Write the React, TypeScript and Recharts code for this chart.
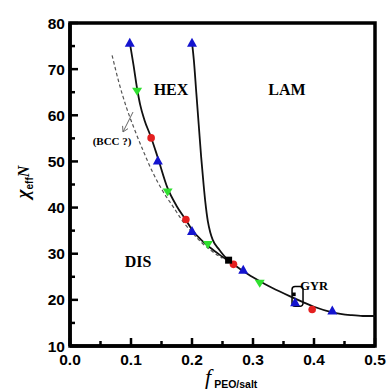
import React from 'react';
import {
  ComposedChart,
  Line,
  Scatter,
  XAxis,
  YAxis,
  ReferenceArea,
  ReferenceDot,
} from 'recharts';

// ---- data ----
const xTicks = [0, 0.05, 0.1, 0.15, 0.2, 0.25, 0.3, 0.35, 0.4, 0.45, 0.5];
const yTicks = [10, 15, 20, 25, 30, 35, 40, 45, 50, 55, 60, 65, 70, 75, 80];

// order-disorder boundary (solid)
const odtCurve = [
  { x: 0.098, y: 75.8 },
  { x: 0.104, y: 71.0 },
  { x: 0.11, y: 65.8 },
  { x: 0.115, y: 62.3 },
  { x: 0.122, y: 59.0 },
  { x: 0.133, y: 55.2 },
  { x: 0.144, y: 50.8 },
  { x: 0.16, y: 44.2 },
  { x: 0.175, y: 40.3 },
  { x: 0.19, y: 37.3 },
  { x: 0.2, y: 35.2 },
  { x: 0.215, y: 33.0 },
  { x: 0.23, y: 31.3 },
  { x: 0.245, y: 29.8 },
  { x: 0.26, y: 28.4 },
  { x: 0.28, y: 26.6 },
  { x: 0.3, y: 24.9 },
  { x: 0.32, y: 23.4 },
  { x: 0.344, y: 21.8 },
  { x: 0.36, y: 20.8 },
  { x: 0.382, y: 19.5 },
  { x: 0.4, y: 18.5 },
  { x: 0.43, y: 17.3 },
  { x: 0.46, y: 16.7 },
  { x: 0.48, y: 16.5 },
  { x: 0.5, y: 16.5 },
];

// HEX / LAM boundary (solid)
const hexLamCurve = [
  { x: 0.2, y: 75.8 },
  { x: 0.203, y: 72.0 },
  { x: 0.207, y: 65.0 },
  { x: 0.211, y: 58.0 },
  { x: 0.215, y: 51.0 },
  { x: 0.219, y: 45.0 },
  { x: 0.222, y: 41.0 },
  { x: 0.226, y: 37.0 },
  { x: 0.23, y: 34.6 },
  { x: 0.234, y: 33.0 },
  { x: 0.245, y: 30.8 },
  { x: 0.258, y: 28.7 },
];

// possible BCC boundary (dashed)
const bccCurve = [
  { x: 0.069, y: 73.0 },
  { x: 0.08, y: 67.2 },
  { x: 0.093, y: 61.5 },
  { x: 0.105, y: 57.2 },
  { x: 0.12, y: 52.3 },
  { x: 0.135, y: 47.8 },
  { x: 0.152, y: 43.6 },
  { x: 0.17, y: 40.0 },
  { x: 0.185, y: 37.0 },
  { x: 0.2, y: 34.6 },
  { x: 0.215, y: 32.5 },
  { x: 0.23, y: 30.8 },
  { x: 0.25, y: 29.0 },
];

const blueTriangles = [
  { x: 0.098, y: 75.6 },
  { x: 0.2, y: 75.6 },
  { x: 0.144, y: 50.1 },
  { x: 0.2, y: 34.8 },
  { x: 0.284, y: 26.4 },
  { x: 0.369, y: 19.4 },
  { x: 0.43, y: 17.6 },
];
const greenTriangles = [
  { x: 0.11, y: 65.2 },
  { x: 0.16, y: 43.4 },
  { x: 0.226, y: 32.0 },
  { x: 0.311, y: 23.6 },
];
const redCircles = [
  { x: 0.133, y: 55.1 },
  { x: 0.19, y: 37.4 },
  { x: 0.268, y: 27.7 },
  { x: 0.397, y: 17.9 },
];
const blackSquares = [{ x: 0.26, y: 28.6 }];
const gyrPoints = [{ x: 0.367, y: 21.2 }];

const arrowShaft = [
  { x: 0.1033, y: 60.7 },
  { x: 0.0869, y: 56.4 },
];
const arrowHead = [
  { x: 0.0951, y: 57.1 },
  { x: 0.0869, y: 56.4 },
  { x: 0.0862, y: 57.7 },
];

const gyrBox = { x1: 0.364, x2: 0.382, y1: 18.6, y2: 22.9 };

const regionLabels = [
  { text: 'HEX', x: 0.1656, y: 65.7 },
  { text: 'LAM', x: 0.3557, y: 65.7 },
  { text: 'DIS', x: 0.1115, y: 28.3 },
];
const gyrLabel = { text: 'GYR', x: 0.3775, y: 23.1 };
const bccLabel = { text: '(BCC ?)', x: 0.069, y: 54.5 };

// ---- styling helpers ----
const SANS = 'Liberation Sans, Arial, sans-serif';
const SERIF = 'Liberation Serif, Times New Roman, serif';
const BLUE = '#1414cf';
const GREEN = '#2fe02f';
const RED = '#e42020';

const TriUp = (p: any) => {
  const { cx, cy } = p;
  if (cx == null || cy == null) return null;
  return (
    <polygon
      points={`${cx},${cy - 5.5} ${cx - 5},${cy + 3.5} ${cx + 5},${cy + 3.5}`}
      fill={BLUE}
    />
  );
};
const TriDown = (p: any) => {
  const { cx, cy } = p;
  if (cx == null || cy == null) return null;
  return (
    <polygon
      points={`${cx - 5},${cy - 3.5} ${cx + 5},${cy - 3.5} ${cx},${cy + 4.5}`}
      fill={GREEN}
    />
  );
};
const Circ = (p: any) => {
  const { cx, cy } = p;
  if (cx == null || cy == null) return null;
  return <circle cx={cx} cy={cy} r={3.8} fill={RED} />;
};
const Sq = (p: any) => {
  const { cx, cy } = p;
  if (cx == null || cy == null) return null;
  return <rect x={cx - 3.5} y={cy - 3.5} width={7} height={7} fill="#000" />;
};
const SmallSq = (p: any) => {
  const { cx, cy } = p;
  if (cx == null || cy == null) return null;
  return <rect x={cx - 1.8} y={cy - 1.8} width={3.6} height={3.6} fill="#000" />;
};

const XTick = (props: any) => {
  const { x, y, payload } = props;
  const v = payload.value as number;
  const major = Math.abs(v * 10 - Math.round(v * 10)) < 1e-6;
  return (
    <g>
      <line x1={x} x2={x} y1={y} y2={y - (major ? 8 : 5)} stroke="#000" strokeWidth={2.5} />
      {major && (
        <text
          x={x}
          y={y + 19}
          textAnchor="middle"
          fontFamily={SANS}
          fontWeight="bold"
          fontSize={15.5}
          fill="#000"
        >
          {v.toFixed(1)}
        </text>
      )}
    </g>
  );
};

const YTick = (props: any) => {
  const { x, y, payload } = props;
  const v = payload.value as number;
  const major = v % 10 === 0;
  return (
    <g>
      <line x1={x} x2={x + (major ? 8 : 5)} y1={y} y2={y} stroke="#000" strokeWidth={2.5} />
      {major && (
        <text
          x={x - 5}
          y={y + 5.5}
          textAnchor="end"
          fontFamily={SANS}
          fontWeight="bold"
          fontSize={15.5}
          fill="#000"
        >
          {v}
        </text>
      )}
    </g>
  );
};

const makeLabel = (text: string, size: number, weight: string, anchor: string) => (p: any) => {
  const { cx, cy } = p;
  if (cx == null || cy == null) return null;
  return (
    <text
      x={cx}
      y={cy}
      dy="0.35em"
      textAnchor={anchor}
      fontFamily={SERIF}
      fontWeight={weight}
      fontSize={size}
      fill="#000"
    >
      {text}
    </text>
  );
};

export default function App() {
  return (
    <div style={{ position: 'absolute', left: 0, top: 0, width: 387, height: 389, background: '#fff' }}>
      <ComposedChart
        width={387}
        height={389}
        margin={{ top: 23, right: 12, bottom: 0, left: 0 }}
      >
        <XAxis
          type="number"
          dataKey="x"
          domain={[0, 0.5]}
          ticks={xTicks}
          interval={0}
          allowDataOverflow
          height={43}
          tickSize={0}
          tickMargin={0}
          tickLine={false}
          tick={<XTick />}
          axisLine={{ stroke: '#000', strokeWidth: 3.5 }}
        />
        <YAxis
          type="number"
          dataKey="y"
          domain={[10, 80]}
          ticks={yTicks}
          interval={0}
          allowDataOverflow
          width={70}
          tickSize={0}
          tickMargin={0}
          tickLine={false}
          tick={<YTick />}
          axisLine={{ stroke: '#000', strokeWidth: 3.5 }}
        />
        <ReferenceArea
          x1={0}
          x2={0.5}
          y1={10}
          y2={80}
          fill="none"
          fillOpacity={0}
          stroke="#000"
          strokeWidth={3.5}
        />

        <Line
          data={bccCurve}
          dataKey="y"
          type="monotone"
          stroke="#555"
          strokeWidth={1.2}
          strokeDasharray="3.5 2.5"
          dot={false}
          isAnimationActive={false}
        />
        <Line
          data={odtCurve}
          dataKey="y"
          type="monotone"
          stroke="#111"
          strokeWidth={1.8}
          dot={false}
          isAnimationActive={false}
        />
        <Line
          data={hexLamCurve}
          dataKey="y"
          type="monotone"
          stroke="#111"
          strokeWidth={1.8}
          dot={false}
          isAnimationActive={false}
        />
        <Line
          data={arrowShaft}
          dataKey="y"
          type="linear"
          stroke="#666"
          strokeWidth={1}
          dot={false}
          isAnimationActive={false}
        />
        <Line
          data={arrowHead}
          dataKey="y"
          type="linear"
          stroke="#666"
          strokeWidth={1}
          dot={false}
          isAnimationActive={false}
        />

        <ReferenceArea
          x1={gyrBox.x1}
          x2={gyrBox.x2}
          y1={gyrBox.y1}
          y2={gyrBox.y2}
          fill="none"
          fillOpacity={0}
          stroke="#000"
          strokeWidth={1.5}
          radius={3}
        />

        <Scatter data={redCircles} dataKey="y" shape={Circ} isAnimationActive={false} />
        <Scatter data={greenTriangles} dataKey="y" shape={TriDown} isAnimationActive={false} />
        <Scatter data={blueTriangles} dataKey="y" shape={TriUp} isAnimationActive={false} />
        <Scatter data={blackSquares} dataKey="y" shape={Sq} isAnimationActive={false} />
        <Scatter data={gyrPoints} dataKey="y" shape={SmallSq} isAnimationActive={false} />

        {regionLabels.map((l) => (
          <ReferenceDot
            key={l.text}
            x={l.x}
            y={l.y}
            r={0}
            shape={makeLabel(l.text, 16, 'bold', 'middle')}
          />
        ))}
        <ReferenceDot x={gyrLabel.x} y={gyrLabel.y} r={0} shape={makeLabel(gyrLabel.text, 12.5, 'bold', 'start')} />
        <ReferenceDot x={bccLabel.x} y={bccLabel.y} r={0} shape={makeLabel(bccLabel.text, 11, 'bold', 'middle')} />

        <text transform="rotate(-90 29 182)" x={29} y={182} textAnchor="middle" fill="#000">
          <tspan fontFamily={SERIF} fontStyle="italic" fontWeight="bold" fontSize={19}>χ</tspan>
          <tspan fontFamily={SANS} fontWeight="bold" fontSize={10} dy={4}>eff</tspan>
          <tspan fontFamily={SERIF} fontStyle="italic" fontWeight="bold" fontSize={16} dy={-4}>N</tspan>
        </text>
        <text x={205} y={384} fill="#000">
          <tspan fontFamily={SERIF} fontStyle="italic" fontSize={22}>f</tspan>
          <tspan fontFamily={SANS} fontWeight="bold" fontSize={10.5} dx={3} dy={4}>PEO/salt</tspan>
        </text>
      </ComposedChart>
    </div>
  );
}
